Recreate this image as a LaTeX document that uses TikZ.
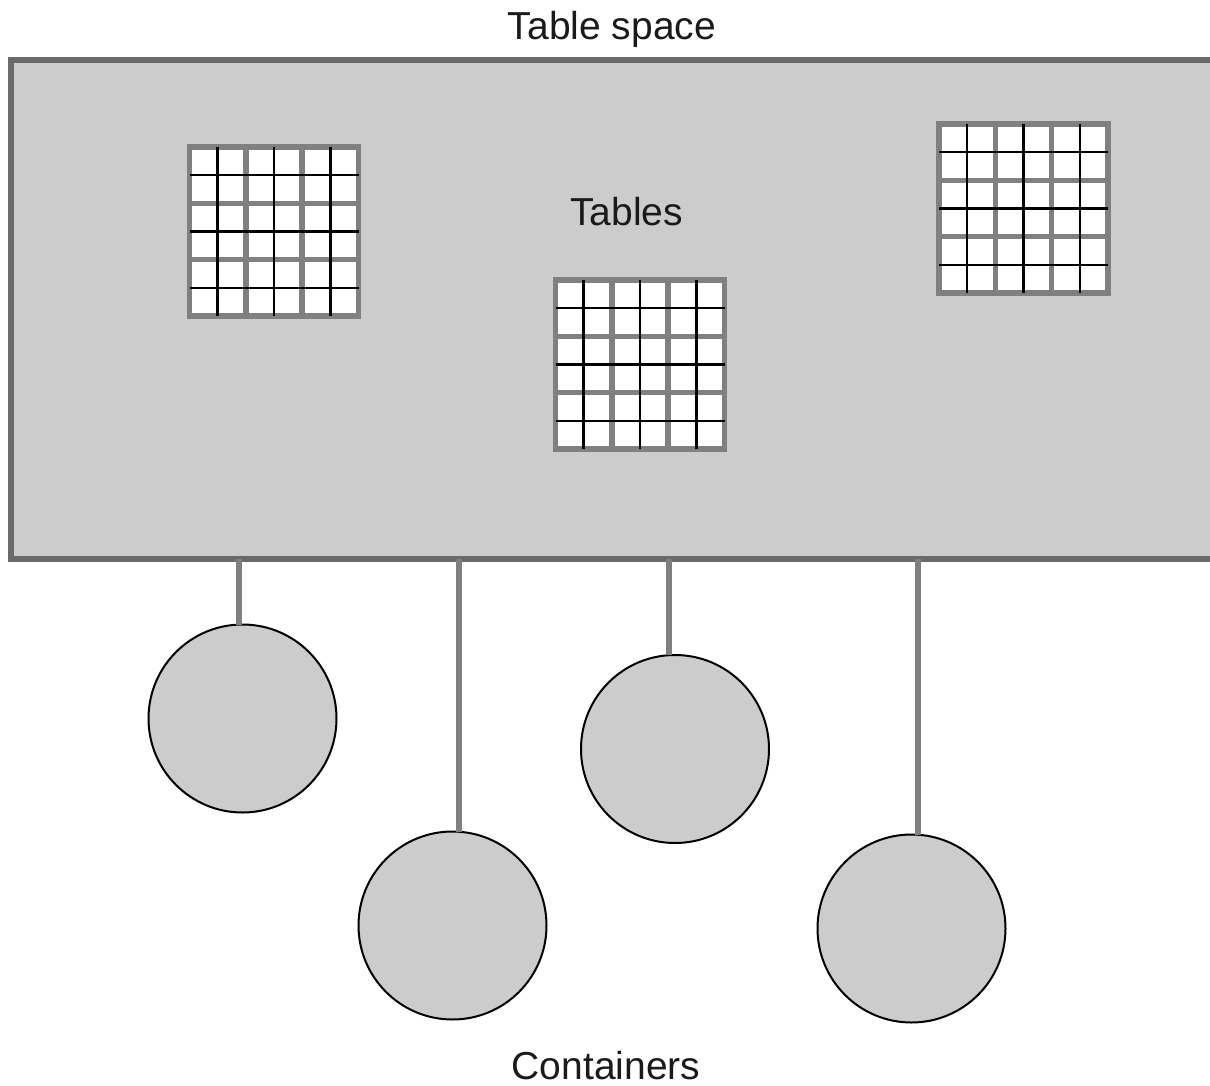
\documentclass[tikz,border=0pt]{standalone}
\usepackage{fontspec}
\setmainfont{Liberation Sans}
\definecolor{boxfill}{HTML}{CCCCCC}
\definecolor{edgegray}{HTML}{6A6A6A}
\definecolor{gridgray}{HTML}{808080}
\definecolor{textcol}{HTML}{1A1A1A}
\tikzset{
  spacebox/.style={draw=edgegray, line width=3pt, fill=boxfill, rectangle, inner sep=0pt, outer sep=0pt, anchor=north west, minimum width=604.5pt, minimum height=249.5pt},
  gridbox/.style={draw=gridgray, line width=2.75pt, fill=white, rectangle, inner sep=0pt, outer sep=0pt, minimum width=84.5pt, minimum height=84.5pt},
  gridthick/.style={draw=gridgray, line width=2.75pt},
  gridthin/.style={draw=black, line width=1.25pt},
  container/.style={circle, draw=black, line width=1pt, fill=boxfill, minimum size=94pt, inner sep=0pt, outer sep=0pt},
  conn/.style={draw=gridgray, line width=2.75pt},
  txtlabel/.style={font=\fontsize{19.5pt}{23pt}\selectfont, text=textcol, anchor=base, inner sep=0pt}
}
\newcommand\gridlines[1]{%
  \begin{scope}[shift={(#1.north west)}]
    \draw[gridthick] (56.333,0) -- (56.333,169) (112.667,0) -- (112.667,169)
      (0,56.333) -- (169,56.333) (0,112.667) -- (169,112.667);
    \draw[gridthin] (28.167,0) -- (28.167,169) (84.5,0) -- (84.5,169) (140.833,0) -- (140.833,169)
      (0,28.167) -- (169,28.167) (0,84.5) -- (169,84.5) (0,140.833) -- (169,140.833);
  \end{scope}
}
\begin{document}
\begin{tikzpicture}[x=0.5pt, y=-0.5pt]
\useasboundingbox (0,0) rectangle (1210,1086);
\node[txtlabel] (tslabel) at (612,40) {Table space};
\node[spacebox] (ts) at (11,60) {};
\node[gridbox] (t1) at (274,231.5) {};
\node[gridbox] (t2) at (640,364.5) {};
\node[gridbox] (t3) at (1023.5,208.5) {};
\gridlines{t1}
\gridlines{t2}
\gridlines{t3}
\node[txtlabel] (tlabel) at (626.5,225) {Tables};
\node[container] (c1) at (242.5,718.5) {};
\node[container] (c2) at (452.5,925.5) {};
\node[container] (c3) at (675,749) {};
\node[container] (c4) at (911.5,928.5) {};
\coordinate (p1) at (239,559);
\coordinate (p2) at (459,559);
\coordinate (p3) at (669,559);
\coordinate (p4) at (918,559);
\draw[conn] (p1) -- (p1 |- c1.north);
\draw[conn] (p2) -- (p2 |- c2.north);
\draw[conn] (p3) -- (p3 |- c3.north);
\draw[conn] (p4) -- (p4 |- c4.north);
\node[txtlabel] (clabel) at (606,1079) {Containers};
\end{tikzpicture}
\end{document}
